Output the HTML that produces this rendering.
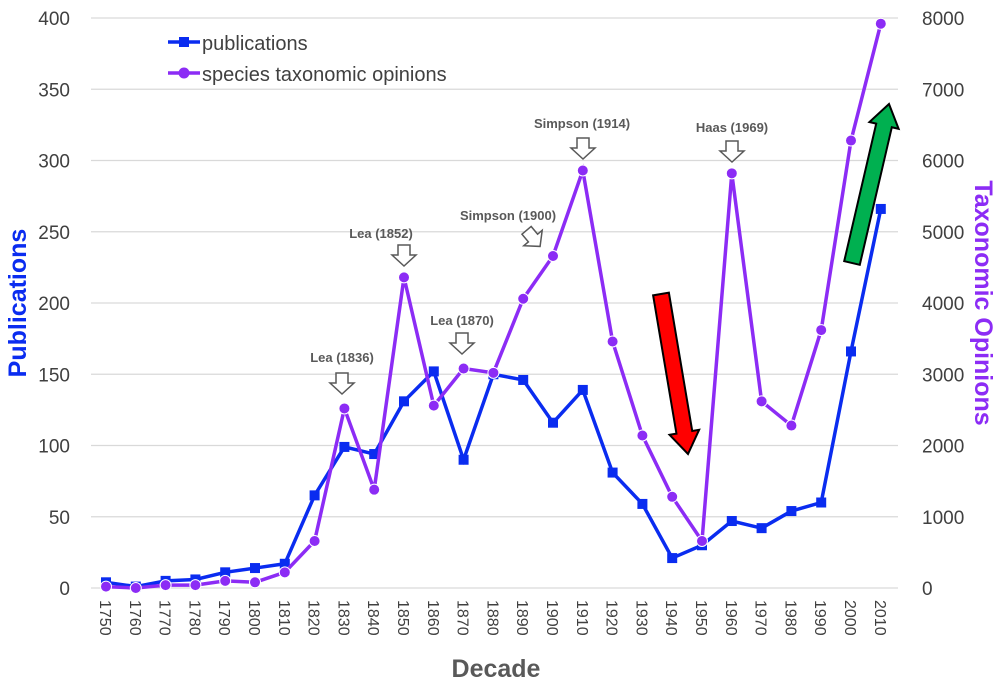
<!DOCTYPE html>
<html><head><meta charset="utf-8"><style>
body{margin:0;background:#fff}
svg{display:block;font-family:"Liberation Sans",sans-serif}
</style></head><body>
<svg id="s" width="1000" height="688" xmlns="http://www.w3.org/2000/svg"></svg>
<script>
const s=document.getElementById('s');
const X=i=>106+i*29.8, Y=v=>588-v*1.425;
let h='';
for(let k=0;k<=8;k++){const y=Y(k*50);
h+=`<line x1="91" x2="898" y1="${y}" y2="${y}" stroke="#d9d9d9" stroke-width="1.3"/>`;
h+=`<text x="70" y="${y+7}" font-size="19" fill="#404040" text-anchor="end">${k*50}</text>`;
h+=`<text x="922" y="${y+7}" font-size="19" fill="#404040">${k*1000}</text>`;}
for(let i=0;i<27;i++){const x=X(i);
h+=`<text transform="translate(${x-6},600) rotate(90)" font-size="16" fill="#404040">${1750+i*10}</text>`;}
const pub=[4,1,5,6,11,14,17,65,99,94,131,152,90,150,146,116,139,81,59,21,30,47,42,54,60,166,266];
const op=[1,0,2,2,5,4,11,33,126,69,218,128,154,151,203,233,293,173,107,64,33,291,131,114,181,314,396];
const pts=a=>a.map((v,i)=>X(i)+','+Y(v)).join(' ');
h+=`<polyline points="${pts(pub)}" fill="none" stroke="#0a2cf0" stroke-width="3.5"/>`;
pub.forEach((v,i)=>h+=`<rect x="${X(i)-5}" y="${Y(v)-5}" width="10" height="10" fill="#0a2cf0"/>`);
h+=`<polyline points="${pts(op)}" fill="none" stroke="#8c2cf5" stroke-width="3.5"/>`;
op.forEach((v,i)=>h+=`<circle cx="${X(i)}" cy="${Y(v)}" r="5.5" fill="#8c2cf5" stroke="#fff" stroke-width="1"/>`);
h+=`<line x1="168" x2="200" y1="42" y2="42" stroke="#0a2cf0" stroke-width="3.5"/><rect x="179" y="37" width="10" height="10" fill="#0a2cf0"/>`;
h+=`<text x="202" y="50" font-size="20" fill="#404040">publications</text>`;
h+=`<line x1="168" x2="200" y1="73" y2="73" stroke="#8c2cf5" stroke-width="3.5"/><circle cx="184" cy="73" r="5.5" fill="#8c2cf5"/>`;
h+=`<text x="202" y="81" font-size="20" fill="#404040">species taxonomic opinions</text>`;
function down(x,y,rot){return `<g transform="translate(${x},${y}) rotate(${rot||0})"><polygon points="-6,-10 6,-10 6,0 12,0 0,11 -12,0 -6,0" fill="#fff" stroke="#595959" stroke-width="1.5"/></g>`;}
const co=[["Lea (1836)",342,362,342,383],["Lea (1852)",381,238,404,255],["Lea (1870)",462,325,462,343],["Simpson (1900)",508,220,533,238,-40],["Simpson (1914)",582,128,583,148],["Haas (1969)",732,132,732,151]];
co.forEach(c=>{h+=`<text x="${c[1]}" y="${c[2]}" font-size="13" font-weight="bold" fill="#595959" text-anchor="middle">${c[0]}</text>`+down(c[3],c[4],c[5]);});
function arrow(x1,y1,x2,y2,sw,hw,hl,col){const dx=x2-x1,dy=y2-y1,L=Math.hypot(dx,dy),ux=dx/L,uy=dy/L,nx=-uy,ny=ux;
const bx=x2-ux*hl,by=y2-uy*hl;const p=[[x1+nx*sw,y1+ny*sw],[bx+nx*sw,by+ny*sw],[bx+nx*hw,by+ny*hw],[x2,y2],[bx-nx*hw,by-ny*hw],[bx-nx*sw,by-ny*sw],[x1-nx*sw,y1-ny*sw]];
return `<polygon points="${p.map(q=>q.join(',')).join(' ')}" fill="${col}" stroke="#000" stroke-width="2"/>`;}
h+=arrow(661,294,688,454,8,15,22,"#ff0000");
h+=arrow(852,263,889,104,8,15,22,"#00b050");
h+=`<text transform="translate(26,303) rotate(-90)" font-size="25" font-weight="bold" fill="#0a2cf0" text-anchor="middle">Publications</text>`;
h+=`<text transform="translate(975,303) rotate(90)" font-size="25" font-weight="bold" fill="#8c2cf5" text-anchor="middle">Taxonomic Opinions</text>`;
h+=`<text x="496" y="677" font-size="25" font-weight="bold" fill="#595959" text-anchor="middle">Decade</text>`;
s.innerHTML=h;
</script>
</body></html>
